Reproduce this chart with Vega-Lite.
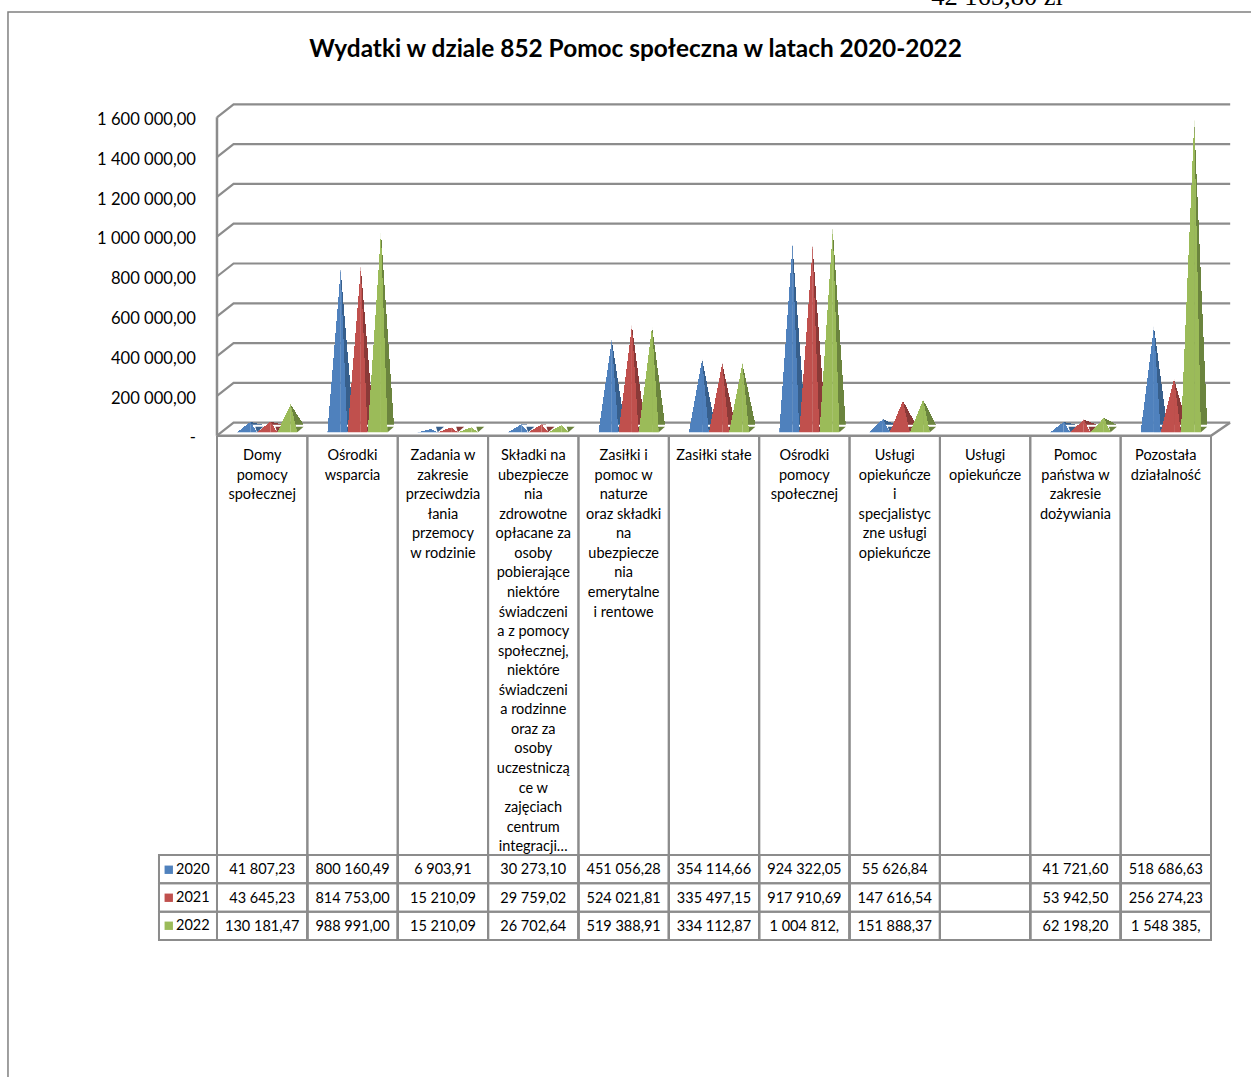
{"$schema":"https://vega.github.io/schema/vega-lite/v6.json","width":1251,"height":1077,"padding":0,"autosize":{"type":"none"},"background":"white","config":{"view":{"stroke":null},"font":"Lato"},
"title":{"text":"Wydatki w dziale 852 Pomoc społeczna w latach 2020-2022","font":"Lato","fontSize":24.4,"fontWeight":"bold","color":"black","anchor":"middle","frame":"group","dx":10,"offset":-97,"baseline":"alphabetic"},
"datasets":{
"bars":[
{"category":"Domy pomocy społecznej","year":"2020","value":41807.23,"label":"41 807,23"},
{"category":"Domy pomocy społecznej","year":"2021","value":43645.23,"label":"43 645,23"},
{"category":"Domy pomocy społecznej","year":"2022","value":130181.47,"label":"130 181,47"},
{"category":"Ośrodki wsparcia","year":"2020","value":800160.49,"label":"800 160,49"},
{"category":"Ośrodki wsparcia","year":"2021","value":814753.00,"label":"814 753,00"},
{"category":"Ośrodki wsparcia","year":"2022","value":988991.00,"label":"988 991,00"},
{"category":"Zadania w zakresie przeciwdziałania przemocy w rodzinie","year":"2020","value":6903.91,"label":"6 903,91"},
{"category":"Zadania w zakresie przeciwdziałania przemocy w rodzinie","year":"2021","value":15210.09,"label":"15 210,09"},
{"category":"Zadania w zakresie przeciwdziałania przemocy w rodzinie","year":"2022","value":15210.09,"label":"15 210,09"},
{"category":"Składki na ubezpieczenia zdrowotne","year":"2020","value":30273.10,"label":"30 273,10"},
{"category":"Składki na ubezpieczenia zdrowotne","year":"2021","value":29759.02,"label":"29 759,02"},
{"category":"Składki na ubezpieczenia zdrowotne","year":"2022","value":26702.64,"label":"26 702,64"},
{"category":"Zasiłki i pomoc w naturze","year":"2020","value":451056.28,"label":"451 056,28"},
{"category":"Zasiłki i pomoc w naturze","year":"2021","value":524021.81,"label":"524 021,81"},
{"category":"Zasiłki i pomoc w naturze","year":"2022","value":519388.91,"label":"519 388,91"},
{"category":"Zasiłki stałe","year":"2020","value":354114.66,"label":"354 114,66"},
{"category":"Zasiłki stałe","year":"2021","value":335497.15,"label":"335 497,15"},
{"category":"Zasiłki stałe","year":"2022","value":334112.87,"label":"334 112,87"},
{"category":"Ośrodki pomocy społecznej","year":"2020","value":924322.05,"label":"924 322,05"},
{"category":"Ośrodki pomocy społecznej","year":"2021","value":917910.69,"label":"917 910,69"},
{"category":"Ośrodki pomocy społecznej","year":"2022","value":1004812,"label":"1 004 812,"},
{"category":"Usługi opiekuńcze i specjalistyczne usługi opiekuńcze","year":"2020","value":55626.84,"label":"55 626,84"},
{"category":"Usługi opiekuńcze i specjalistyczne usługi opiekuńcze","year":"2021","value":147616.54,"label":"147 616,54"},
{"category":"Usługi opiekuńcze i specjalistyczne usługi opiekuńcze","year":"2022","value":151888.37,"label":"151 888,37"},
{"category":"Pomoc państwa w zakresie dożywiania","year":"2020","value":41721.60,"label":"41 721,60"},
{"category":"Pomoc państwa w zakresie dożywiania","year":"2021","value":53942.50,"label":"53 942,50"},
{"category":"Pomoc państwa w zakresie dożywiania","year":"2022","value":62198.20,"label":"62 198,20"},
{"category":"Pozostała działalność","year":"2020","value":518686.63,"label":"518 686,63"},
{"category":"Pozostała działalność","year":"2021","value":256274.23,"label":"256 274,23"},
{"category":"Pozostała działalność","year":"2022","value":1548385,"label":"1 548 385,"}
],
"ticks":[{"v":0},{"v":200000},{"v":400000},{"v":600000},{"v":800000},{"v":1000000},{"v":1200000},{"v":1400000},{"v":1600000}],
"headers":[
{"category":"Domy pomocy społecznej","lines":"Domy\npomocy\nspołecznej"},
{"category":"Ośrodki wsparcia","lines":"Ośrodki\nwsparcia"},
{"category":"Zadania w zakresie przeciwdziałania przemocy w rodzinie","lines":"Zadania w\nzakresie\nprzeciwdzia\nłania\nprzemocy\nw rodzinie"},
{"category":"Składki na ubezpieczenia zdrowotne","lines":"Składki na\nubezpiecze\nnia\nzdrowotne\nopłacane za\nosoby\npobierające\nniektóre\nświadczeni\na z pomocy\nspołecznej,\nniektóre\nświadczeni\na rodzinne\noraz za\nosoby\nuczestniczą\nce w\nzajęciach\ncentrum\nintegracji…"},
{"category":"Zasiłki i pomoc w naturze","lines":"Zasiłki i\npomoc w\nnaturze\noraz składki\nna\nubezpiecze\nnia\nemerytalne\ni rentowe"},
{"category":"Zasiłki stałe","lines":"Zasiłki stałe"},
{"category":"Ośrodki pomocy społecznej","lines":"Ośrodki\npomocy\nspołecznej"},
{"category":"Usługi opiekuńcze i specjalistyczne usługi opiekuńcze","lines":"Usługi\nopiekuńcze\ni\nspecjalistyc\nzne usługi\nopiekuńcze"},
{"category":"Usługi opiekuńcze","lines":"Usługi\nopiekuńcze"},
{"category":"Pomoc państwa w zakresie dożywiania","lines":"Pomoc\npaństwa w\nzakresie\ndożywiania"},
{"category":"Pozostała działalność","lines":"Pozostała\ndziałalność"}
],
"cells":[
{"category":"Domy pomocy społecznej","year":"2020"},{"category":"Domy pomocy społecznej","year":"2021"},{"category":"Domy pomocy społecznej","year":"2022"},
{"category":"Ośrodki wsparcia","year":"2020"},{"category":"Ośrodki wsparcia","year":"2021"},{"category":"Ośrodki wsparcia","year":"2022"},
{"category":"Zadania w zakresie przeciwdziałania przemocy w rodzinie","year":"2020"},{"category":"Zadania w zakresie przeciwdziałania przemocy w rodzinie","year":"2021"},{"category":"Zadania w zakresie przeciwdziałania przemocy w rodzinie","year":"2022"},
{"category":"Składki na ubezpieczenia zdrowotne","year":"2020"},{"category":"Składki na ubezpieczenia zdrowotne","year":"2021"},{"category":"Składki na ubezpieczenia zdrowotne","year":"2022"},
{"category":"Zasiłki i pomoc w naturze","year":"2020"},{"category":"Zasiłki i pomoc w naturze","year":"2021"},{"category":"Zasiłki i pomoc w naturze","year":"2022"},
{"category":"Zasiłki stałe","year":"2020"},{"category":"Zasiłki stałe","year":"2021"},{"category":"Zasiłki stałe","year":"2022"},
{"category":"Ośrodki pomocy społecznej","year":"2020"},{"category":"Ośrodki pomocy społecznej","year":"2021"},{"category":"Ośrodki pomocy społecznej","year":"2022"},
{"category":"Usługi opiekuńcze i specjalistyczne usługi opiekuńcze","year":"2020"},{"category":"Usługi opiekuńcze i specjalistyczne usługi opiekuńcze","year":"2021"},{"category":"Usługi opiekuńcze i specjalistyczne usługi opiekuńcze","year":"2022"},
{"category":"Usługi opiekuńcze","year":"2020"},{"category":"Usługi opiekuńcze","year":"2021"},{"category":"Usługi opiekuńcze","year":"2022"},
{"category":"Pomoc państwa w zakresie dożywiania","year":"2020"},{"category":"Pomoc państwa w zakresie dożywiania","year":"2021"},{"category":"Pomoc państwa w zakresie dożywiania","year":"2022"},
{"category":"Pozostała działalność","year":"2020"},{"category":"Pozostała działalność","year":"2021"},{"category":"Pozostała działalność","year":"2022"}
],
"note":[{"text":"42 165,80 zł"}]
},
"resolve":{"scale":{"y":"independent"},"axis":{"y":"independent"}},
"layer":[
{"layer":[
{"data":{"name":"ticks"},"mark":{"type":"point","shape":"M-45.2,0L-28.6,-13L968,-13","size":4,"filled":false,"stroke":"#8c8c8c","strokeWidth":2.2,"opacity":1},
"encoding":{"x":{"datum":"Domy pomocy społecznej","type":"nominal","axis":null,"scale":{"domain":["Domy pomocy społecznej","Ośrodki wsparcia","Zadania w zakresie przeciwdziałania przemocy w rodzinie","Składki na ubezpieczenia zdrowotne","Zasiłki i pomoc w naturze","Zasiłki stałe","Ośrodki pomocy społecznej","Usługi opiekuńcze i specjalistyczne usługi opiekuńcze","Usługi opiekuńcze","Pomoc państwa w zakresie dożywiania","Pozostała działalność"],"type":"band","range":[217,1211],"paddingInner":0,"paddingOuter":0}},
"y":{"field":"v","type":"quantitative","scale":{"domain":[0,1600000],"range":[435.7,117.3],"nice":false},"axis":{"values":[0,200000,400000,600000,800000,1000000,1200000,1400000,1600000],"orient":"left","offset":-195.5,"domain":false,"ticks":false,"grid":false,"title":null,"labelExpr":"datum.value==0?'-\u00a0\u00a0\u00a0\u00a0\u00a0\u00a0\u00a0\u00a0\u00a0\u00a0':replace(replace(format(datum.value,',.2f'),/,/g,' '),'.',',')","labelFont":"Lato","labelFontSize":16.6,"labelOffset":2.2,"labelColor":"black","labelPadding":0,"labelOverlap":false,"labelFlush":false}}}},
{"data":{"name":"ticks"},"transform":[{"filter":"datum.v==1600000"}],"mark":{"type":"point","shape":"M-45.2,0V318.4","size":4,"filled":false,"stroke":"#8c8c8c","strokeWidth":2.5,"opacity":1},
"encoding":{"x":{"datum":"Domy pomocy społecznej","type":"nominal","axis":null},"y":{"field":"v","type":"quantitative"}}},
{"data":{"name":"ticks"},"transform":[{"filter":"datum.v==0"}],"mark":{"type":"point","shape":"M-45.2,0H948.8L967.8,-13","size":4,"filled":false,"stroke":"#8c8c8c","strokeWidth":2.5,"opacity":1},
"encoding":{"x":{"datum":"Domy pomocy społecznej","type":"nominal","axis":null},"y":{"field":"v","type":"quantitative"}}},
{"data":{"name":"ticks"},"transform":[{"filter":"datum.v==1600000"}],"mark":{"type":"point","shape":"M-254.2,959.7V-105.3H988.8","size":4,"filled":false,"stroke":"#808080","strokeWidth":1.5,"opacity":1},
"encoding":{"x":{"datum":"Domy pomocy społecznej","type":"nominal","axis":null},"y":{"field":"v","type":"quantitative"}}},
{"data":{"name":"note"},"mark":{"type":"text","font":"Liberation Serif","fontSize":26.5,"color":"black","align":"center","baseline":"alphabetic","dx":12,"yOffset":-112.3},
"encoding":{"x":{"datum":"Usługi opiekuńcze","type":"nominal","axis":null},"y":{"datum":1600000,"type":"quantitative"},"text":{"field":"text"}}},
{"data":{"name":"headers"},"mark":{"type":"point","shape":"M-45.18,0V504M45.18,0V504","size":4,"filled":false,"stroke":"#8c8c8c","strokeWidth":2,"opacity":1},
"encoding":{"x":{"field":"category","type":"nominal","axis":null},"y":{"datum":0,"type":"quantitative"}}},
{"data":{"name":"headers"},"mark":{"type":"text","font":"Lato","fontSize":14.5,"color":"black","align":"center","baseline":"top","lineBreak":"\n","lineHeight":19.55,"yOffset":13.5},
"encoding":{"x":{"field":"category","type":"nominal","axis":null},"y":{"datum":0,"type":"quantitative"},"text":{"field":"lines"}}}
]},
{"data":{"name":"bars"},
"resolve":{"scale":{"xOffset":"independent"}},
"encoding":{"x":{"field":"category","type":"nominal","axis":null},"y":{"field":"value","type":"quantitative","axis":null,"scale":{"domain":[0,1600000],"range":[430.3,110.3],"nice":false}}},
"layer":[
{"transform":[{"filter":"datum.value>27500"}],"mark":{"type":"bar","width":13},
"encoding":{"xOffset":{"field":"year","type":"nominal","scale":{"domain":["2020","2021","2022"],"range":[29.725,90.175]}},"y2":{"datum":27500},"fill":{"condition":[{"test":"datum.year==='2020'","value":{"gradient":"linear","x1":1,"y1":0,"x2":0,"y2":1,"stops":[{"offset":0,"color":"rgba(0,0,0,0)"},{"offset":0.5,"color":"rgba(0,0,0,0)"},{"offset":0.5,"color":"#375f8c"},{"offset":1,"color":"#375f8c"}]}},{"test":"datum.year==='2021'","value":{"gradient":"linear","x1":1,"y1":0,"x2":0,"y2":1,"stops":[{"offset":0,"color":"rgba(0,0,0,0)"},{"offset":0.5,"color":"rgba(0,0,0,0)"},{"offset":0.5,"color":"#8a3a38"},{"offset":1,"color":"#8a3a38"}]}}],"value":{"gradient":"linear","x1":1,"y1":0,"x2":0,"y2":1,"stops":[{"offset":0,"color":"rgba(0,0,0,0)"},{"offset":0.5,"color":"rgba(0,0,0,0)"},{"offset":0.5,"color":"#6b843e"},{"offset":1,"color":"#6b843e"}]}}}},
{"mark":{"type":"point","shape":"M5,-5.5H13L6.7,0Z","size":4,"filled":true,"opacity":1,"strokeWidth":0},
"encoding":{"xOffset":{"field":"year","type":"nominal","scale":{"domain":["2020","2021","2022"],"range":[23.2,83.65]}},"y":{"datum":-10000,"type":"quantitative"},"fill":{"condition":[{"test":"datum.year==='2020'","value":"#375f8c"},{"test":"datum.year==='2021'","value":"#8a3a38"}],"value":"#6b843e"}}},
{"mark":{"type":"bar","width":6.7},
"encoding":{"xOffset":{"field":"year","type":"nominal","scale":{"domain":["2020","2021","2022"],"range":[26.575,87.025]}},"y2":{"datum":-10000},"fill":{"condition":[{"test":"datum.year==='2020'","value":{"gradient":"linear","x1":1,"y1":0,"x2":0,"y2":1,"stops":[{"offset":0,"color":"rgba(0,0,0,0)"},{"offset":0.5,"color":"rgba(0,0,0,0)"},{"offset":0.5,"color":"#4f81bd"},{"offset":1,"color":"#4f81bd"}]}},{"test":"datum.year==='2021'","value":{"gradient":"linear","x1":1,"y1":0,"x2":0,"y2":1,"stops":[{"offset":0,"color":"rgba(0,0,0,0)"},{"offset":0.5,"color":"rgba(0,0,0,0)"},{"offset":0.5,"color":"#c0504d"},{"offset":1,"color":"#c0504d"}]}}],"value":{"gradient":"linear","x1":1,"y1":0,"x2":0,"y2":1,"stops":[{"offset":0,"color":"rgba(0,0,0,0)"},{"offset":0.5,"color":"rgba(0,0,0,0)"},{"offset":0.5,"color":"#9bbb59"},{"offset":1,"color":"#9bbb59"}]}}}},
{"mark":{"type":"bar","width":13.3},
"encoding":{"xOffset":{"field":"year","type":"nominal","scale":{"domain":["2020","2021","2022"],"range":[16.575,77.025]}},"y2":{"datum":-10000},"fill":{"condition":[{"test":"datum.year==='2020'","value":{"gradient":"linear","x1":0,"y1":0,"x2":1,"y2":1,"stops":[{"offset":0,"color":"rgba(0,0,0,0)"},{"offset":0.5,"color":"rgba(0,0,0,0)"},{"offset":0.5,"color":"#4f81bd"},{"offset":1,"color":"#4f81bd"}]}},{"test":"datum.year==='2021'","value":{"gradient":"linear","x1":0,"y1":0,"x2":1,"y2":1,"stops":[{"offset":0,"color":"rgba(0,0,0,0)"},{"offset":0.5,"color":"rgba(0,0,0,0)"},{"offset":0.5,"color":"#c0504d"},{"offset":1,"color":"#c0504d"}]}}],"value":{"gradient":"linear","x1":0,"y1":0,"x2":1,"y2":1,"stops":[{"offset":0,"color":"rgba(0,0,0,0)"},{"offset":0.5,"color":"rgba(0,0,0,0)"},{"offset":0.5,"color":"#9bbb59"},{"offset":1,"color":"#9bbb59"}]}}}}
]},
{"encoding":{"y":{"field":"year","type":"nominal","axis":null,"scale":{"type":"band","domain":["2020","2021","2022"],"range":[855,940],"paddingInner":0,"paddingOuter":0}}},
"layer":[
{"data":{"name":"cells"},"mark":{"type":"point","shape":"M-45.18,-14.17H45.18V14.17H-45.18Z","size":4,"filled":false,"stroke":"#8c8c8c","strokeWidth":2,"opacity":1},
"encoding":{"x":{"field":"category","type":"nominal","axis":null}}},
{"data":{"name":"cells"},"transform":[{"filter":"datum.category==='Domy pomocy społecznej'"}],"mark":{"type":"point","shape":"M-103.2,-14.17H-45.2V14.17H-103.2Z","size":4,"filled":false,"stroke":"#8c8c8c","strokeWidth":2,"opacity":1},
"encoding":{"x":{"field":"category","type":"nominal","axis":null}}},
{"data":{"name":"cells"},"mark":{"type":"point","opacity":0,"filled":true,"size":4},
"encoding":{"x":{"field":"category","type":"nominal","axis":null},"color":{"field":"year","type":"nominal","scale":{"domain":["2020","2021","2022"],"range":["#4f81bd","#c0504d","#9bbb59"]},"legend":{"orient":"none","legendX":161.5,"legendY":862.5,"title":null,"symbolType":"square","symbolSize":70,"symbolOpacity":1,"symbolStrokeWidth":0,"labelFont":"Lato","labelFontSize":14.5,"labelColor":"black","rowPadding":13,"labelOffset":0}}}},
{"data":{"name":"bars"},"mark":{"type":"text","font":"Lato","fontSize":14.5,"color":"black","align":"center","baseline":"middle","dy":1.2},
"encoding":{"x":{"field":"category","type":"nominal","axis":null},"text":{"field":"label"}}}
]}
]}
